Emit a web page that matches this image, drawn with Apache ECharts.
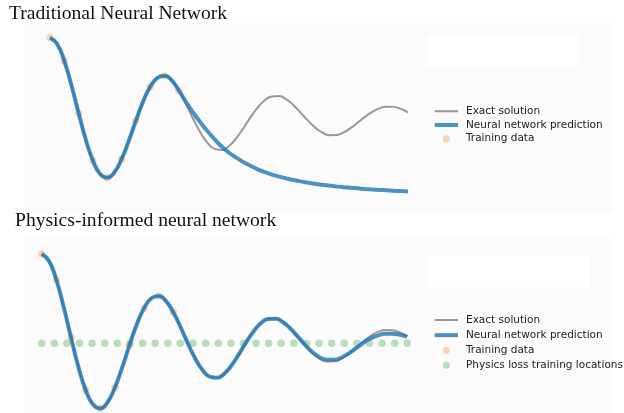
<!DOCTYPE html>
<html>
<head>
<meta charset="utf-8">
<script src="https://cdn.jsdelivr.net/npm/echarts@6/dist/echarts.min.js"></script>
<style>
html,body{margin:0;padding:0;background:#fff;}
#chart{width:624px;height:413px;}
</style>
</head>
<body>
<div id="chart"></div>
<script>
// ---- data ----
const topTitle = 'Traditional Neural Network';
const bottomTitle = 'Physics-informed neural network';
const legendTop = ['Exact solution', 'Neural network prediction', 'Training data'];
const legendBottom = ['Exact solution', 'Neural network prediction', 'Training data', 'Physics loss training locations'];
const lineNames = ['Exact solution', 'Neural network prediction'];

const tGrid = [0,0.02,0.04,0.06,0.08,0.10,0.12,0.14,0.16,0.18,0.20,0.22,0.24,0.26,0.28,0.30,0.32,0.34,0.36,0.38,0.40,
  0.42,0.44,0.46,0.48,0.50,0.52,0.54,0.56,0.58,0.60,0.62,0.64,0.66,0.68,0.70,0.72,0.74,0.76,0.78,0.80,
  0.82,0.84,0.86,0.88,0.90,0.92,0.94,0.96,0.98,1.00];

const exactSolution = [1.000,0.923,0.712,0.409,0.068,-0.258,-0.519,-0.683,-0.729,-0.661,-0.498,-0.273,-0.023,0.211,0.394,0.505,0.530,0.472,0.348,0.180,-0.003,
  -0.170,-0.299,-0.373,-0.385,-0.337,-0.242,-0.118,0.016,0.136,0.227,0.275,0.279,0.240,0.167,0.075,-0.021,-0.107,-0.170,-0.203,-0.202,
  -0.170,-0.115,-0.047,0.023,0.084,0.128,0.149,0.146,0.121,0.079];

const nnTop = [1.000,0.923,0.712,0.409,0.068,-0.258,-0.519,-0.683,-0.729,-0.661,-0.498,-0.273,-0.023,0.211,0.394,0.505,0.530,0.472,0.348,0.205,0.075,
  -0.045,-0.155,-0.255,-0.345,-0.420,-0.480,-0.535,-0.580,-0.625,-0.660,-0.690,-0.715,-0.737,-0.757,-0.774,-0.789,-0.803,-0.815,-0.826,-0.836,
  -0.845,-0.853,-0.860,-0.867,-0.873,-0.879,-0.884,-0.889,-0.894,-0.898];

const nnBottom = [1.000,0.923,0.712,0.409,0.068,-0.258,-0.519,-0.683,-0.729,-0.661,-0.498,-0.273,-0.023,0.211,0.394,0.505,0.530,0.472,0.348,0.180,-0.003,
  -0.170,-0.299,-0.373,-0.385,-0.337,-0.242,-0.118,0.016,0.136,0.227,0.272,0.274,0.236,0.166,0.077,-0.015,-0.097,-0.155,-0.183,-0.185,
  -0.160,-0.113,-0.054,0.006,0.056,0.090,0.106,0.107,0.095,0.075];

const trainT = [0,0.04,0.08,0.12,0.16,0.20,0.24,0.28,0.32,0.36];
const trainU = [1.000,0.712,0.068,-0.519,-0.729,-0.498,-0.023,0.394,0.530,0.348];

const physT = [0,0.0345,0.0690,0.1034,0.1379,0.1724,0.2069,0.2414,0.2759,0.3103,0.3448,0.3793,0.4138,0.4483,0.4828,
  0.5172,0.5517,0.5862,0.6207,0.6552,0.6897,0.7241,0.7586,0.7931,0.8276,0.8621,0.8966,0.9310,0.9655,1.0000];
const physU = [0,0,0,0,0,0,0,0,0,0,0,0,0,0,0,0,0,0,0,0,0,0,0,0,0,0,0,0,0,0];

// ---- build ----
const pairs = (xs, ys) => xs.map((x, i) => [x, ys[i]]);
const GREY = 'rgba(128,128,128,0.8)';
const BLUE = 'rgba(31,119,180,0.8)';
const ORANGE = 'rgba(255,127,14,0.4)';
const GREEN = 'rgba(44,160,44,0.4)';
const legendItems = names => names.map(n => lineNames.includes(n) ? {name: n, itemStyle: {opacity: 0}} : {name: n});
const legendFont = {fontFamily: 'DejaVu Sans', fontSize: 10.5, color: '#222', lineHeight: 13.7, padding: [0,0,0,3]};

const chart = echarts.init(document.getElementById('chart'), null, {renderer: 'canvas'});
chart.setOption({
  backgroundColor: '#ffffff',
  animation: false,
  title: [
    {text: topTitle, left: 9, top: 4, padding: 0,
     textStyle: {fontFamily: 'Liberation Serif', fontSize: 19.6, fontWeight: 'normal', color: '#111'}},
    {text: bottomTitle, left: 15, top: 211, padding: 0,
     textStyle: {fontFamily: 'Liberation Serif', fontSize: 19.6, fontWeight: 'normal', color: '#111'}}
  ],
  graphic: [
    {type: 'rect', z: -10, shape: {x: 25, y: 23, width: 587, height: 190}, style: {fill: '#fbfbfb'}},
    {type: 'rect', z: -9, shape: {x: 427, y: 35, width: 152, height: 32}, style: {fill: '#ffffff'}},
    {type: 'rect', z: -10, shape: {x: 25, y: 238, width: 587, height: 175}, style: {fill: '#fbfbfb'}},
    {type: 'rect', z: -9, shape: {x: 427, y: 255, width: 163, height: 32}, style: {fill: '#ffffff'}}
  ],
  grid: [
    {left: 50, width: 358, top: 29.6, height: 170.1},
    {left: 41.7, width: 365.6, top: 245.1, height: 166.1}
  ],
  xAxis: [
    {type: 'value', gridIndex: 0, min: 0, max: 1, show: false},
    {type: 'value', gridIndex: 1, min: 0, max: 1, show: false}
  ],
  yAxis: [
    {type: 'value', gridIndex: 0, min: -1, max: 1.1, show: false},
    {type: 'value', gridIndex: 1, min: -0.76, max: 1.1, show: false}
  ],
  legend: [
    {data: legendItems(legendTop), orient: 'vertical', left: 432.7, top: 104.4, padding: 0, itemWidth: 23.3, itemHeight: 7,
     itemGap: 0, selectedMode: false, textStyle: legendFont, lineStyle: {width: 'inherit'}},
    {data: legendItems(legendBottom), orient: 'vertical', left: 432.7, top: 312.5, padding: 0, itemWidth: 23.3, itemHeight: 7,
     itemGap: 0, selectedMode: false, textStyle: Object.assign({}, legendFont, {lineHeight: 15.1}), lineStyle: {width: 'inherit'}}
  ],
  series: [
    {name: 'Exact solution', type: 'line', xAxisIndex: 0, yAxisIndex: 0, data: pairs(tGrid, exactSolution),
     smooth: true, symbol: 'none', lineStyle: {color: GREY, width: 2}, itemStyle: {color: GREY}},
    {name: 'Neural network prediction', type: 'line', xAxisIndex: 0, yAxisIndex: 0, data: pairs(tGrid, nnTop),
     smooth: true, symbol: 'none', lineStyle: {color: BLUE, width: 4}, itemStyle: {color: BLUE}},
    {name: 'Training data', type: 'scatter', xAxisIndex: 0, yAxisIndex: 0, data: pairs(trainT, trainU),
     symbolSize: 7.5, itemStyle: {color: ORANGE}},

    {name: 'Exact solution', type: 'line', xAxisIndex: 1, yAxisIndex: 1, data: pairs(tGrid, exactSolution),
     smooth: true, symbol: 'none', clip: false, lineStyle: {color: GREY, width: 2}, itemStyle: {color: GREY}},
    {name: 'Neural network prediction', type: 'line', xAxisIndex: 1, yAxisIndex: 1, data: pairs(tGrid, nnBottom),
     smooth: true, symbol: 'none', clip: false, lineStyle: {color: BLUE, width: 4}, itemStyle: {color: BLUE}},
    {name: 'Training data', type: 'scatter', xAxisIndex: 1, yAxisIndex: 1, data: pairs(trainT, trainU),
     symbolSize: 7.5, clip: false, itemStyle: {color: ORANGE}},
    {name: 'Physics loss training locations', type: 'scatter', xAxisIndex: 1, yAxisIndex: 1, data: pairs(physT, physU),
     symbolSize: 7.5, itemStyle: {color: GREEN}}
  ]
});
</script>
</body>
</html>
